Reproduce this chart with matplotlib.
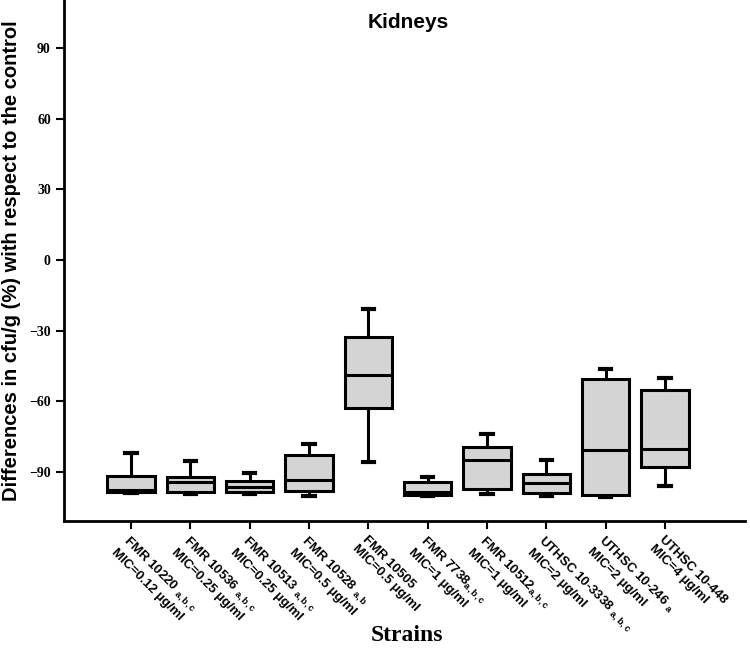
import matplotlib
matplotlib.use("Agg")
import matplotlib.pyplot as plt

plt.rcParams['mathtext.fontset'] = 'custom'
plt.rcParams['mathtext.bf'] = 'Liberation Sans:bold'
plt.rcParams['mathtext.rm'] = 'Liberation Sans:bold'

# strain names (with the subscript letters) and MIC lines
strains = ["FMR 10220 $_{\\mathrm{a,b,c}}$", "FMR 10536 $_{\\mathrm{a,b,c}}$",
           "FMR 10513 $_{\\mathrm{a,b,c}}$", "FMR 10528 $_{\\mathrm{a,b}}$",
           "FMR 10505", "FMR 7738$_{\\mathrm{a,b,c}}$", "FMR 10512$_{\\mathrm{a,b,c}}$",
           "UTHSC 10-3338 $_{\\mathrm{a,b,c}}$", "UTHSC 10-246 $_{\\mathrm{a}}$",
           "UTHSC 10-448"]
mics = ["MIC=0.12 µg/ml", "MIC=0.25 µg/ml", "MIC=0.25 µg/ml", "MIC=0.5 µg/ml",
        "MIC=0.5 µg/ml", "MIC=1 µg/ml", "MIC=1 µg/ml", "MIC=2 µg/ml",
        "MIC=2 µg/ml", "MIC=4 µg/ml"]

# box stats
whislo = [-99.1, -99.4, -99.2, -100.2, -85.9, -100.3, -99.2, -100.2, -100.5, -96.0]
q1 = [-98.4, -98.5, -98.5, -98.2, -62.7, -99.8, -97.4, -99.1, -99.8, -87.8]
med = [-97.7, -94.4, -96.3, -93.5, -48.7, -98.5, -84.9, -94.7, -80.8, -80.4]
q3 = [-91.6, -92.3, -94.0, -82.7, -32.8, -94.3, -79.3, -90.7, -50.4, -55.1]
whishi = [-82.1, -85.4, -90.6, -78.0, -20.9, -92.3, -74.0, -84.9, -46.1, -50.0]

stats = []
for i in range(len(strains)):
    stats.append({"whislo": whislo[i], "q1": q1[i], "med": med[i],
                  "q3": q3[i], "whishi": whishi[i], "fliers": []})

fig = plt.figure(figsize=(7.5, 6.56), dpi=100)
ax = fig.add_axes([0.0853, 0.2063, 0.908, 0.7937])

lw = 2.2
pos = list(range(1, len(strains) + 1))
ax.bxp(stats, positions=pos, widths=0.8, patch_artist=True, showfliers=False,
       capwidths=0.19,
       boxprops=dict(facecolor="#d4d4d4", edgecolor="black", linewidth=lw),
       medianprops=dict(color="black", linewidth=lw),
       whiskerprops=dict(color="black", linewidth=lw),
       capprops=dict(color="black", linewidth=lw + 0.8))

ax.set_xlim(-0.13, 11.35)
ax.set_ylim(-110.7, 110.4)
ax.set_yticks([-90, -60, -30, 0, 30, 60, 90])
ax.set_xticks(pos)
ax.set_xticklabels([s + "\n" + m for s, m in zip(strains, mics)],
                   rotation=-45, ha="left", va="top", rotation_mode="anchor",
                   fontsize=9.5, fontweight="bold", family="Liberation Sans")
for t in ax.get_yticklabels():
    t.set_family("Liberation Serif")
    t.set_fontweight("bold")
    t.set_fontsize(10)

for s in ["top", "right"]:
    ax.spines[s].set_visible(False)
for s in ["left", "bottom"]:
    ax.spines[s].set_linewidth(2)
ax.tick_params(width=1.5, length=6, colors="black")
ax.tick_params(axis="x", pad=3)

ax.set_ylabel("Differences in cfu/g (%) with respect to the control",
              fontsize=14.5, fontweight="bold", family="Liberation Sans", labelpad=6)
ax.text(0.505, 0.957, "Kidneys", transform=ax.transAxes, ha="center", va="center",
        fontsize=15, fontweight="bold", family="Liberation Sans")
fig.text(0.543, 0.015, "Strains", ha="center", va="bottom",
         fontsize=17, fontweight="bold", family="Liberation Serif")

fig.savefig("out.png", dpi=100)
